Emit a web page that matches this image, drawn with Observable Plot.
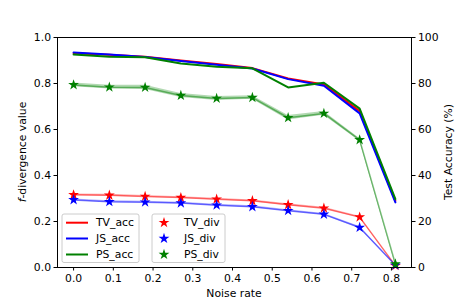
<!DOCTYPE html>
<html><head><meta charset="utf-8">
<script src="https://cdn.jsdelivr.net/npm/d3@7"></script>
<script src="https://cdn.jsdelivr.net/npm/@observablehq/plot@0.6"></script>
<style>body{margin:0;background:#fff} svg{font-family:"DejaVu Sans",sans-serif}</style>
</head><body><div id="chart"></div>
<script>
const noiseRates = [0, 0.09, 0.18, 0.27, 0.36, 0.45, 0.54, 0.63, 0.72, 0.81];
const seriesNames = ["TV", "JS", "PS"];
const tvAcc = [93.2, 92.5, 91.6, 90.0, 88.5, 86.7, 82.2, 79.6, 68.0, 29.0];
const jsAcc = [93.5, 92.6, 91.5, 89.8, 88.2, 86.5, 81.9, 79.0, 67.0, 28.3];
const psAcc = [92.6, 91.6, 91.4, 88.7, 87.3, 86.6, 78.3, 80.3, 69.1, 29.7];
const tvDiv = [0.316, 0.314, 0.309, 0.304, 0.297, 0.290, 0.273, 0.258, 0.219, 0.008];
const jsDiv = [0.294, 0.286, 0.284, 0.280, 0.271, 0.264, 0.247, 0.231, 0.174, 0.010];
const psDiv = [0.794, 0.784, 0.783, 0.748, 0.735, 0.739, 0.651, 0.670, 0.555, 0.015];
const tvStd = [0.004, 0.004, 0.004, 0.004, 0.004, 0.004, 0.004, 0.004, 0.004, 0.002];
const jsStd = [0.004, 0.004, 0.004, 0.004, 0.004, 0.004, 0.004, 0.004, 0.004, 0.002];
const psStd = [0.008, 0.008, 0.009, 0.009, 0.009, 0.008, 0.010, 0.008, 0.006, 0.003];
const xTicks = [0, 0.1, 0.2, 0.3, 0.4, 0.5, 0.6, 0.7, 0.8];
const yTicks = [0, 0.2, 0.4, 0.6, 0.8, 1.0];
const accTickLabels = ["0", "20", "40", "60", "80", "100"];
const accLegend = ["TV_acc", "JS_acc", "PS_acc"];
const divLegend = ["TV_div", "JS_div", "PS_div"];
const colors = ["#ff0000", "#0000ff", "#008000"];

const accs = [tvAcc, jsAcc, psAcc], divs = [tvDiv, jsDiv, psDiv], stds = [tvStd, jsStd, psStd];
const rows = [];
seriesNames.forEach((s, k) => noiseRates.forEach((x, i) =>
  rows.push({series: s, x, acc: accs[k][i], div: divs[k][i], std: stds[k][i]})));

const W = 457, H = 305, mL = 57, mR = 46, mT = 37, mB = 38;
const starR = 3.4;
const fs = "10.8px";
const plot = Plot.plot({
  width: W, height: H, marginLeft: mL, marginRight: mR, marginTop: mT, marginBottom: mB,
  style: {fontFamily: "DejaVu Sans, sans-serif", fontSize: fs, background: "white", color: "black"},
  x: {domain: [-0.0405, 0.8505]},
  y: {domain: [0, 1]},
  color: {domain: seriesNames, range: colors},
  marks: [
    Plot.areaY(rows, {x: "x", y1: d => d.div - d.std, y2: d => d.div + d.std, z: "series", fill: "series", fillOpacity: 0.3}),
    Plot.line(rows, {x: "x", y: "div", z: "series", stroke: "series", strokeOpacity: 0.5, strokeWidth: 1.5}),
    Plot.dot(rows, {x: "x", y: "div", symbol: "star", fill: "series", r: starR}),
    Plot.line(rows, {x: "x", y: d => d.acc / 100, z: "series", stroke: "series", strokeWidth: 2}),
    Plot.axisX({ticks: xTicks, tickSize: 3.5, tickPadding: 3, tickFormat: d3.format(".1f"), label: null}),
    Plot.axisY({anchor: "left", ticks: yTicks, tickSize: 3.5, tickPadding: 3, tickFormat: d3.format(".1f"), label: null}),
    Plot.axisY({anchor: "right", ticks: yTicks, tickSize: 3.5, tickPadding: 3, tickFormat: (d, i) => accTickLabels[i], label: null}),
    Plot.frame({stroke: "black", strokeWidth: 1})
  ]
});
document.getElementById("chart").appendChild(plot);

const svg = d3.select(plot);
// axis titles
const yl = svg.append("text").attr("transform", `translate(22,${(mT + H - mB) / 2}) rotate(-90)`)
  .attr("text-anchor", "middle").attr("dominant-baseline", "central").style("font-size", fs);
yl.append("tspan").attr("font-style", "italic").text("f");
yl.append("tspan").text("-divergence value");
svg.append("text").attr("transform", `translate(448,${(mT + H - mB) / 2}) rotate(-90)`)
  .attr("text-anchor", "middle").attr("dominant-baseline", "central").style("font-size", fs).text("Test Accuracy (%)");
svg.append("text").attr("x", (mL + W - mR) / 2).attr("y", 293).attr("text-anchor", "middle")
  .attr("dominant-baseline", "central").style("font-size", fs).text("Noise rate");

// legends
const rowY = [222.7, 238.5, 254.5];
function legend(x0, x1, labels, kind) {
  const g = svg.append("g");
  g.append("rect").attr("x", x0).attr("y", 214).attr("width", x1 - x0).attr("height", 48.5)
    .attr("rx", 2).attr("fill", "white").attr("fill-opacity", 0.8).attr("stroke", "#cccccc");
  labels.forEach((t, i) => {
    if (kind === "line") {
      g.append("line").attr("x1", x0 + 4).attr("x2", x0 + 26).attr("y1", rowY[i]).attr("y2", rowY[i])
        .attr("stroke", colors[i]).attr("stroke-width", 2);
    } else {
      g.append("path").attr("d", d3.symbol(d3.symbolStar, Math.PI * starR * starR)())
        .attr("transform", `translate(${x0 + 12},${rowY[i]})`).attr("fill", colors[i]);
    }
    g.append("text").attr("x", kind === "line" ? x0 + 34 : x0 + 32).attr("y", rowY[i])
      .attr("text-anchor", "start").attr("dominant-baseline", "central").style("font-size", fs).text(t);
  });
}
legend(62, 139, accLegend, "line");
legend(152, 225, divLegend, "star");
</script></body></html>
